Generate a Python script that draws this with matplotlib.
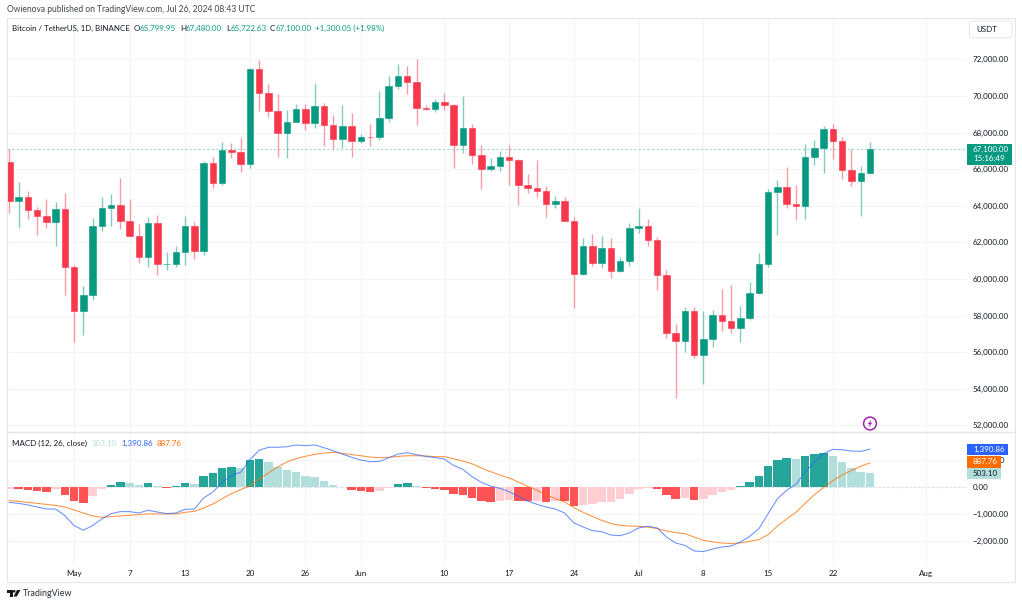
import matplotlib
matplotlib.use('Agg')
import matplotlib.pyplot as plt
from matplotlib.patches import Rectangle, Circle, Polygon, FancyBboxPatch

plt.rcParams['font.family'] = ['Lato', 'DejaVu Sans']

######## DATA #########
# daily candles, Apr 24 -> Jul 26
opens = [66407, 64276, 64481, 63755, 63419, 63113, 63841, 60636, 58254, 59123, 62889, 63891, 64038, 63161, 62334, 61187,
         63049, 60793, 60793, 61448, 62901, 61552, 66339, 65231, 67051, 66940, 66278, 71446, 70148, 69166, 67969, 68549,
         69290, 68507, 69436, 68398, 67652, 68352, 67540, 67766, 67765, 68809, 70568, 71082, 70757, 69355, 69310, 69648,
         69508, 67321, 68243, 66756, 66011, 66191, 66639, 66490, 65146, 64960, 64828, 64096, 64252, 63180, 60277, 61806,
         60864, 61706, 60427, 60986, 62772, 62899, 62135, 60208, 57050, 56628, 58230, 55857, 56714, 58050, 57725, 57339,
         57889, 59204, 60797, 64724, 65043, 64087, 63987, 66660, 67139, 68165, 67532, 65936, 65372, 65799.95]
highs = [67075, 65275, 64804, 63923, 64370, 64208, 64703, 60780, 59602, 63320, 64494, 64639, 65494, 64390, 62986, 63404,
         63469, 61490, 61818, 63450, 63099, 66444, 66683, 67459, 67400, 67700, 71515, 71979, 70666, 70096, 69250, 69562,
         69562, 70687, 69591, 68935, 69500, 69044, 67900, 68460, 70288, 71063, 71758, 71625, 71997, 69520, 69850, 70146,
         69580, 69999, 68449, 67294, 66600, 66999, 67298, 66556, 65727, 66484, 65066, 64525, 64481, 63369, 62258, 62480,
         62370, 62225, 61224, 63058, 63861, 63288, 62285, 60498, 57546, 58475, 58472, 58237, 58296, 59470, 59650, 58526,
         59850, 61420, 64900, 65388, 66128, 65133, 67386, 67598, 68366, 68479, 67750, 67102, 66175, 67480]
lows = [63589, 62783, 63277, 62391, 62781, 61789, 59120, 56552, 56937, 58848, 62594, 62900, 62746, 62300, 60888, 60648,
        60187, 60492, 60632, 60749, 61108, 61319, 64959, 65119, 66600, 65857, 66060, 69162, 68836, 66670, 66600, 68900,
        68128, 68250, 67277, 67124, 67128, 66670, 67428, 67257, 67612, 68567, 70383, 70119, 68420, 69210, 69125, 69232,
        66051, 66905, 66304, 64886, 65900, 65900, 65130, 64060, 64693, 64500, 63379, 63900, 63178, 58402, 60239, 60712,
        60570, 60063, 60383, 60712, 62497, 61806, 59400, 56771, 53485, 56018, 55700, 54260, 56289, 57157, 57050, 56542,
        57756, 59194, 60632, 62373, 63854, 63238, 63300, 66222, 65777, 66574, 65441, 65077, 63456, 65722.63]
closes = [64276, 64481, 63755, 63419, 63113, 63841, 60636, 58254, 59123, 62889, 63891, 64038, 63161, 62334, 61187, 63049,
          60793, 60793, 61448, 62901, 61552, 66339, 65231, 67051, 66940, 66278, 71446, 70148, 69166, 67969, 68549, 69290,
          68507, 69436, 68398, 67652, 68352, 67540, 67766, 67765, 68809, 70568, 71082, 70757, 69355, 69310, 69648, 69508,
          67321, 68243, 66756, 66011, 66191, 66639, 66490, 65146, 64960, 64828, 64096, 64252, 63180, 60277, 61806, 60864,
          61706, 60427, 60986, 62772, 62899, 62135, 60208, 57050, 56628, 58230, 55857, 56714, 58050, 57725, 57339, 57889,
          59204, 60797, 64724, 65043, 64087, 63987, 66660, 67139, 68165, 67532, 65936, 65372, 65777, 67100]

macd_hist = [-75, -85, -110, -135, -170, -85, -290, -515, -580, -330, -85, 85, 170, 155, 75, 150,
             50, -30, 40, 150, 125, 415, 530, 690, 735, 710, 990, 1020, 920, 735, 610, 540,
             405, 355, 220, 75, -15, -100, -160, -195, -160, -25, 100, 150, 20, -30, -60, -100,
             -260, -285, -405, -525, -550, -500, -495, -515, -525, -500, -540, -500, -515, -685, -650, -640,
             -565, -550, -440, -245, -75, -25, -75, -295, -440, -400, -490, -440, -295, -185, -100, 25,
             185, 405, 770, 1005, 1055, 1030, 1150, 1200, 1240, 1150, 930, 710, 550, 503.10]
macd_line = [-565, -600, -660, -735, -810, -810, -1050, -1420, -1590, -1420, -1175, -980, -905, -905, -955, -855,
             -920, -980, -955, -820, -810, -405, -185, 170, 430, 540, 1005, 1350, 1460, 1460, 1480, 1545,
             1520, 1545, 1445, 1335, 1210, 1090, 990, 930, 940, 1075, 1210, 1260, 1190, 1125, 1080, 1030,
             795, 650, 380, 170, 35, -50, -170, -345, -515, -635, -735, -810, -955, -1320, -1470, -1605,
             -1640, -1765, -1790, -1690, -1505, -1445, -1505, -1835, -2060, -2145, -2350, -2375, -2280, -2205, -2170, -2020,
             -1815, -1530, -980, -430, -120, 100, 550, 920, 1225, 1385, 1370, 1320, 1310, 1390.86]
signal_line = [-500, -525, -565, -600, -640, -675, -735, -845, -955, -1065, -1115, -1090, -1065, -1040, -1015, -990,
               -990, -990, -990, -930, -895, -770, -625, -430, -245, -100, 50, 295, 515, 735, 920, 1040,
               1130, 1200, 1250, 1275, 1235, 1190, 1150, 1100, 1080, 1090, 1125, 1150, 1150, 1140, 1115, 1115,
               1040, 955, 855, 700, 565, 440, 330, 185, 25, -120, -280, -430, -550, -760, -930, -1080,
               -1225, -1345, -1410, -1435, -1445, -1470, -1530, -1615, -1680, -1715, -1840, -1960, -2020, -2060, -2080, -2055,
               -2000, -1935, -1750, -1435, -1175, -930, -600, -280, -15, 235, 440, 610, 760, 887.76]

price_ticks = [52000, 54000, 56000, 58000, 60000, 62000, 64000, 66000, 68000, 70000, 72000]
macd_ticks = [-2000, -1000, 0, 1000]
# candle index of each date label (0 = Apr 24)
date_pos = [7, 13, 19, 26, 32, 38, 47, 54, 61, 68, 75, 82, 89, 99]
date_labels = ['May', '7', '13', '20', '26', 'Jun', '10', '17', '24', 'Jul', '8', '15', '22', 'Aug']

######## COLOURS #########
UP = '#089981'
DOWN = '#f7374c'
TXT = '#131722'
GRID = '#f3f4f6'
BORDER = '#e3e5ea'
MACD_BLUE = '#2962ff'
SIGNAL_ORANGE = '#ff6d00'
PALE_TEAL = '#b2dfdb'

W, H = 1022, 605
FS = 5.8


def pane(top, bottom):
    # axes from pixel rows, right edge is where the price scale starts
    return fig.add_axes([6.5 / W, 1 - bottom / H, (967 - 6.5) / W, (bottom - top) / H])


fig = plt.figure(figsize=(W / 100, H / 100), dpi=100, facecolor='white')
ax = pane(18, 432)
ax2 = pane(432, 565)

x = list(range(len(closes)))
xlim = (-0.30, 103.48)

######## CANDLES #########
colors = [UP if c >= o else DOWN for o, c in zip(opens, closes)]
ax.vlines(x, lows, highs, colors=colors, linewidth=1, alpha=0.5, zorder=2)
ax.bar(x, [c - o for o, c in zip(opens, closes)], bottom=opens, width=0.70,
       color=colors, edgecolor=colors, linewidth=0.4, zorder=3)
ax.axhline(closes[-1], color='#9adbc9', linewidth=0.8, dashes=(2, 2), zorder=1)

ax.set_xlim(xlim)
ax.set_ylim(51634, 74257)
ax.set_yticks(price_ticks)
ax.set_yticklabels(['{:,.2f}'.format(v) for v in price_ticks])

######## MACD #########
hist_colors = []
for i, v in enumerate(macd_hist):
    rising = i == 0 or v > macd_hist[i - 1]
    if v >= 0:
        hist_colors.append('#26a69a' if rising else PALE_TEAL)
    else:
        hist_colors.append('#ffcdd2' if rising else '#ff5252')
ax2.axhline(0, color='#dfe1e6', linewidth=0.8, dashes=(2, 2), zorder=1)
ax2.bar(x, macd_hist, width=0.92, color=hist_colors, linewidth=0, zorder=2)
ax2.plot(x, signal_line, color=SIGNAL_ORANGE, linewidth=0.75, alpha=0.75, zorder=3)
ax2.plot(x, macd_line, color=MACD_BLUE, linewidth=0.75, alpha=0.7, zorder=4)

ax2.set_xlim(xlim)
ax2.set_ylim(-2868, 2022)
ax2.set_yticks(macd_ticks)
ax2.set_yticklabels(['{:,.2f}'.format(v).replace('-', '\u2212') for v in macd_ticks])
ax2.set_xticks(date_pos)
ax2.set_xticklabels(date_labels)

ax.set_xticks(date_pos)
ax.tick_params(axis='x', labelbottom=False, length=0)
for a in (ax, ax2):
    a.yaxis.tick_right()
    a.tick_params(axis='y', length=0, pad=4.2, labelsize=FS, labelcolor=TXT)
    a.grid(True, color=GRID, linewidth=0.8)
    a.set_axisbelow(True)
    for s in a.spines.values():
        s.set_visible(False)
ax2.tick_params(axis='x', length=0, pad=3.5, labelsize=FS, labelcolor=TXT)

######## TEXT AND BOXES, in pixels #########
top = fig.add_axes([0, 0, 1, 1], zorder=5)
top.set_xlim(0, W)
top.set_ylim(H, 0)
top.axis('off')
top.patch.set_alpha(0)


def txt(px, py, s, color=TXT, size=FS, ha='left', **kw):
    top.text(px, py, s, color=color, fontsize=size, ha=ha, va='center', **kw)


# frame
top.add_patch(Rectangle((6.5, 18), 1015 - 6.5, 581.5 - 18, fill=False, edgecolor=BORDER, linewidth=0.8))
top.plot([6.5, 1015], [432, 432], color=BORDER, linewidth=1)

txt(7, 10, 'Owienova published on TradingView.com, Jul 26, 2024 08:43 UTC', color='#434651', size=6.15)
txt(12, 28.5, 'Bitcoin / TetherUS, 1D, BINANCE', size=5.7)
for px, lab, px2, val in [(134, 'O', 139.5, '65,799.95'), (180, 'H', 186, '67,480.00'),
                          (226, 'L', 231, '65,722.63'), (270, 'C', 276, '67,100.00')]:
    txt(px, 28.5, lab)
    txt(px2, 28.5, val, color=UP)
txt(315, 28.5, '+1,300.05 (+1.98%)', color=UP)

txt(12, 443, 'MACD (12, 26, close)')
txt(92, 443, '503.10', color=PALE_TEAL)
txt(121, 443, '1,390.86', color=MACD_BLUE)
txt(157, 443, '887.76', color=SIGNAL_ORANGE)

# currency box
top.add_patch(FancyBboxPatch((971, 22.5), 39.5, 13.8, boxstyle='round,pad=1.5,rounding_size=3',
                             facecolor='white', edgecolor=BORDER, linewidth=0.7))
txt(976, 29.3, 'USDT')

# last price tag
top.add_patch(Rectangle((967, 143.5), 45, 21, facecolor=UP, edgecolor='none', zorder=3))
txt(973, 149, '67,100.00', color='white', zorder=4)
txt(973, 158.5, '15:16:49', color='white', zorder=4)

# macd tags
for y0, w, face, fc, s in [(443.5, 41, MACD_BLUE, 'white', '1,390.86'),
                           (456, 33.5, SIGNAL_ORANGE, 'white', '887.76'),
                           (467.5, 33.5, PALE_TEAL, TXT, '503.10')]:
    top.add_patch(Rectangle((967, y0), w, 11.8, facecolor=face, edgecolor='none', zorder=3))
    txt(973, y0 + 6, s, color=fc, zorder=4)

# dividends / earnings flash
top.add_patch(Circle((870, 423.5), 6.4, fill=False, edgecolor='#9c27b0', linewidth=1.1))
top.add_patch(Polygon([(871.5, 419.5), (867.7, 424.2), (869.8, 424.2), (868.6, 427.5), (872.4, 422.8), (870.3, 422.8)],
                      closed=True, facecolor='#9c27b0', edgecolor='none'))

# logo
top.add_patch(Polygon([(7, 590), (13, 590), (13, 596.5), (10, 596.5), (10, 592.5), (7, 592.5)],
                      closed=True, facecolor=TXT, edgecolor='none'))
top.add_patch(Circle((14.2, 591.3), 1.3, facecolor=TXT, edgecolor='none'))
top.add_patch(Polygon([(17, 590), (20.5, 590), (16.8, 596.5), (13.5, 596.5)], closed=True, facecolor=TXT, edgecolor='none'))
txt(23, 593.5, 'TradingView', color='#2a2e39', size=6.4)

fig.savefig('out.png', dpi=100)
